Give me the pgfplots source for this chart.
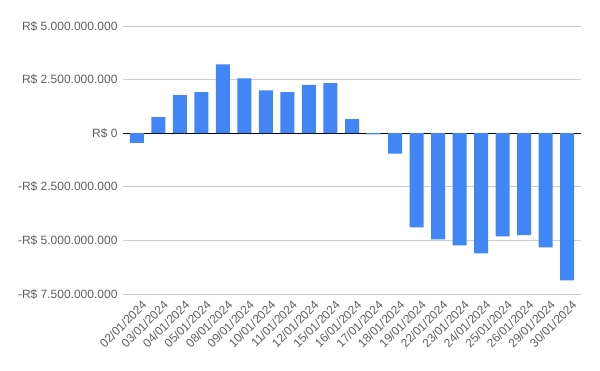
\documentclass[border=0pt]{standalone}
\usepackage{pgfplots}
\pgfplotsset{compat=1.18}
\usepackage{fontspec}
\setmainfont{Liberation Sans}
\definecolor{barblue}{HTML}{4285F4}
\definecolor{lbl}{HTML}{5F5F5F}
\definecolor{grd}{HTML}{CCCCCC}
\begin{document}
\begin{tikzpicture}
\useasboundingbox (0,0) rectangle (600pt,371pt);
\begin{axis}[
  at={(123pt,77pt)}, anchor=south west,
  scale only axis, width=458pt, height=268pt,
  xmin=-0.65, xmax=20.65, ymin=-7500000000, ymax=5000000000,
  ybar, bar width=14pt,
  axis line style={draw=none},
  major tick length=0pt,
  xtick={0,...,20},
  xticklabels={02/01/2024,03/01/2024,04/01/2024,05/01/2024,08/01/2024,09/01/2024,10/01/2024,11/01/2024,12/01/2024,15/01/2024,16/01/2024,17/01/2024,18/01/2024,19/01/2024,22/01/2024,23/01/2024,24/01/2024,25/01/2024,26/01/2024,29/01/2024,30/01/2024},
  ytick={-7500000000,-5000000000,-2500000000,2500000000,5000000000},
  yticklabels={-R\$ 7.500.000.000,-R\$ 5.000.000.000,-R\$ 2.500.000.000,R\$ 2.500.000.000,R\$ 5.000.000.000},
  extra y ticks={0},
  extra y tick labels={R\$ 0},
  extra y tick style={grid style={black, line width=0.9pt}},
  ymajorgrids,
  grid style={grd, line width=0.8pt},
  tick label style={font=\fontsize{12}{14}\selectfont, text=lbl},
  yticklabel style={anchor=east, xshift=-2pt},
  xticklabel style={rotate=45, anchor=north east, inner sep=1pt, xshift=0pt, yshift=-6pt},
  scaled y ticks=false,
]
\addplot[fill=barblue, draw=none] coordinates {
(0,-450000000)
(1,750000000)
(2,1770000000)
(3,1910000000)
(4,3210000000)
(5,2560000000)
(6,2000000000)
(7,1910000000)
(8,2250000000)
(9,2330000000)
(10,660000000)
(11,-60000000)
(12,-950000000)
(13,-4390000000)
(14,-4950000000)
(15,-5230000000)
(16,-5600000000)
(17,-4810000000)
(18,-4760000000)
(19,-5320000000)
(20,-6860000000)
};
\end{axis}
\end{tikzpicture}
\end{document}
